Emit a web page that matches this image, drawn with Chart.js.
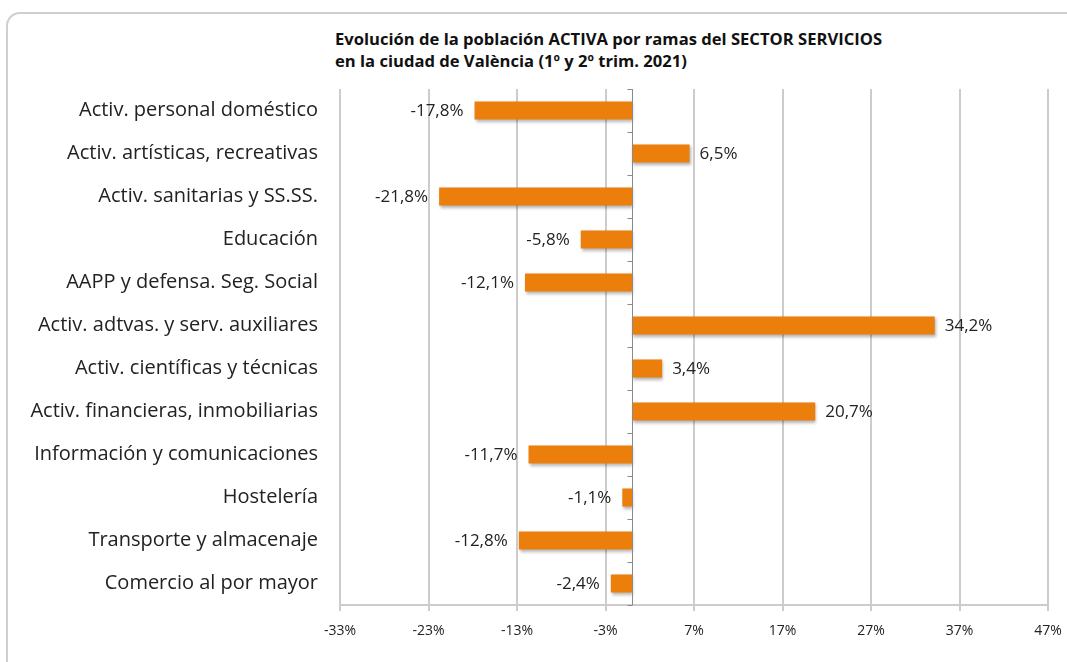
<!DOCTYPE html>
<html>
<head>
<meta charset="utf-8">
<script src="https://cdn.jsdelivr.net/npm/chart.js@4/dist/chart.umd.min.js"></script>
<style>
  html, body { margin: 0; padding: 0; background: #fff; overflow: hidden; }
  body { width: 1067px; height: 662px; position: relative; font-family: "Open Sans", sans-serif; }
  .frame {
    position: absolute; left: 6px; top: 12px; width: 1075px; height: 670px;
    border: 2px solid #cfcfcf; border-radius: 14px; box-sizing: border-box;
  }
  .title {
    position: absolute; left: 335px; top: 28px;
    font: bold 16.6px "Open Sans", sans-serif; color: #111; line-height: 22px;
  }
  #wrap { position: absolute; left: 0; top: 0; width: 1067px; height: 662px; }
</style>
</head>
<body>
<div class="frame"></div>
<div class="title">Evolución de la población ACTIVA por ramas del SECTOR SERVICIOS<br>en la ciudad de València (1º y 2º trim. 2021)</div>
<div id="wrap"><canvas id="chart"></canvas></div>
<script>
const categories = [
  'Activ. personal doméstico',
  'Activ. artísticas, recreativas',
  'Activ. sanitarias y SS.SS.',
  'Educación',
  'AAPP y defensa. Seg. Social',
  'Activ. adtvas. y serv. auxiliares',
  'Activ. científicas y técnicas',
  'Activ. financieras, inmobiliarias',
  'Información y comunicaciones',
  'Hostelería',
  'Transporte y almacenaje',
  'Comercio al por mayor'
];

const variation = [-17.8, 6.5, -21.8, -5.8, -12.1, 34.2, 3.4, 20.7, -11.7, -1.1, -12.8, -2.4];

const axisMin = -33;
const axisMax = 47;
const axisStep = 10;

const orange = '#ec7f0c';
const gridGray = '#cccccc';

function formatPct(value) {
  return value.toFixed(1).replace('.', ',') + '%';
}

// zero line with small ticks between categories
const zeroLine = {
  id: 'zeroLine',
  afterDatasetsDraw(chart) {
    const { ctx, chartArea, scales } = chart;
    const x0 = Math.round(scales.x.getPixelForValue(0)) + 0.5;
    const step = (chartArea.bottom - chartArea.top) / categories.length;
    ctx.save();
    ctx.strokeStyle = '#8a8a8a';
    ctx.lineWidth = 1;
    ctx.beginPath();
    ctx.moveTo(x0, chartArea.top);
    ctx.lineTo(x0, chartArea.bottom);
    for (let i = 0; i <= categories.length; i++) {
      const y = Math.round(chartArea.top + i * step) + 0.5;
      ctx.moveTo(x0 - 5, y);
      ctx.lineTo(x0, y);
    }
    ctx.stroke();
    ctx.restore();
  }
};

const barShadow = {
  id: 'barShadow',
  beforeDatasetsDraw(chart) {
    const ctx = chart.ctx;
    ctx.save();
    ctx.shadowColor = 'rgba(0,0,0,0.3)';
    ctx.shadowBlur = 3;
    ctx.shadowOffsetX = 1;
    ctx.shadowOffsetY = 2;
  },
  afterDatasetsDraw(chart) {
    chart.ctx.restore();
  }
};

const valueLabels = {
  id: 'valueLabels',
  afterDatasetsDraw(chart) {
    const { ctx } = chart;
    const meta = chart.getDatasetMeta(0);
    ctx.save();
    ctx.font = '17px "Open Sans", sans-serif';
    ctx.fillStyle = '#222';
    ctx.textBaseline = 'middle';
    meta.data.forEach((bar, i) => {
      const v = variation[i];
      if (v < 0) {
        ctx.textAlign = 'right';
        ctx.fillText(formatPct(v), bar.x - 11, bar.y + 1);
      } else {
        ctx.textAlign = 'left';
        ctx.fillText(formatPct(v), bar.x + 10, bar.y + 1);
      }
    });
    ctx.restore();
  }
};

new Chart(document.getElementById('chart'), {
  type: 'bar',
  data: {
    labels: categories,
    datasets: [{
      data: variation,
      backgroundColor: orange,
      borderWidth: 0,
      categoryPercentage: 1,
      barPercentage: 0.42
    }]
  },
  plugins: [barShadow, zeroLine, valueLabels],
  options: {
    indexAxis: 'y',
    responsive: true,
    maintainAspectRatio: false,
    animation: false,
    layout: { padding: { top: 89, right: 19, left: 0, bottom: 0 } },
    plugins: {
      legend: { display: false },
      tooltip: { enabled: false }
    },
    scales: {
      x: {
        min: axisMin,
        max: axisMax,
        afterBuildTicks(scale) {
          const ticks = [];
          for (let v = axisMin; v <= axisMax; v += axisStep) ticks.push({ value: v });
          scale.ticks = ticks;
        },
        afterFit(scale) {
          scale.height = 57;
          scale.paddingLeft = 0;
          scale.paddingRight = 0;
        },
        grid: { color: gridGray, lineWidth: 2, tickLength: 6, tickColor: gridGray },
        border: { color: gridGray, width: 2 },
        ticks: {
          color: '#222',
          font: { family: 'Open Sans', size: 14 },
          padding: 12,
          callback: (value) => value + '%'
        }
      },
      y: {
        afterFit(scale) { scale.width = 340; },
        grid: { display: false },
        border: { display: false },
        ticks: {
          color: '#222',
          font: { family: 'Open Sans', size: 20 },
          padding: 14
        }
      }
    }
  }
});
</script>
</body>
</html>
